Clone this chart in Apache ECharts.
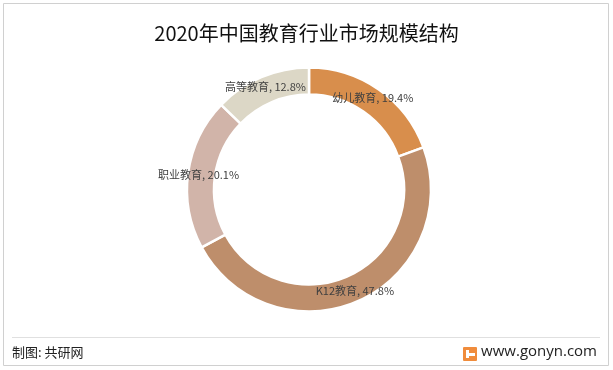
<!DOCTYPE html>
<html>
<head>
<meta charset="utf-8">
<script src="https://cdn.jsdelivr.net/npm/echarts@6/dist/echarts.min.js"></script>
<style>
html,body{margin:0;padding:0;background:#fff;}
#c{width:613px;height:370px;}
</style>
</head>
<body>
<div id="c"></div>
<script>
var categories = ['幼儿教育', 'K12教育', '职业教育', '高等教育'];
var values = [19.4, 47.8, 20.1, 12.8];
var titleText = '2020年中国教育行业市场规模结构';
var sourceText = '制图: 共研网';
var siteText = 'www.gonyn.com';

var colors = ['#D88E4C', '#BE8E6B', '#D1B4A9', '#DCD7C6'];
var chart = echarts.init(document.getElementById('c'), null, {renderer: 'canvas'});
var fontCJK = '"Microsoft YaHei","Noto Sans CJK SC","Noto Sans",sans-serif';
chart.setOption({
  backgroundColor: '#fff',
  animation: false,
  title: {
    text: titleText,
    left: 'center',
    top: 18,
    textStyle: {fontSize: 20, fontWeight: 'normal', color: '#111', fontFamily: fontCJK}
  },
  graphic: [
    {type: 'rect', shape: {x: 3.5, y: 3.5, width: 605, height: 362}, style: {fill: 'none', stroke: '#d0d0d0', lineWidth: 1}},
    {type: 'line', shape: {x1: 12, y1: 337.5, x2: 600, y2: 337.5}, style: {stroke: '#e0e0e0', lineWidth: 1}},
    {type: 'text', left: 12, top: 346, style: {text: sourceText, fontSize: 13, fill: '#222', fontFamily: fontCJK}},
    {type: 'text', right: 16, top: 344, style: {text: siteText, fontSize: 15, fill: '#222', fontFamily: '"Open Sans","Noto Sans",sans-serif'}},
    {type: 'rect', shape: {x: 463, y: 347, width: 14, height: 14, r: 1}, style: {fill: '#F08C3C'}},
    {type: 'rect', shape: {x: 466, y: 353, width: 9, height: 3}, style: {fill: '#fff'}},
    {type: 'rect', shape: {x: 466, y: 350, width: 3, height: 8}, style: {fill: '#fff'}}
  ],
  series: [{
    type: 'pie',
    center: [309, 189.5],
    radius: [95, 122],
    startAngle: 90,
    clockwise: true,
    avoidLabelOverlap: false,
    itemStyle: {borderColor: '#fff', borderWidth: 2.5},
    label: {
      show: true,
      position: 'inside',
      formatter: function (p) { return p.name + ', ' + p.value + '%'; },
      fontSize: 11,
      color: '#404040',
      fontFamily: fontCJK
    },
    labelLine: {show: false},
    emphasis: {disabled: true},
    data: categories.map(function (c, i) {
      return {name: c, value: values[i], itemStyle: {color: colors[i]}};
    })
  }]
});
</script>
</body>
</html>
